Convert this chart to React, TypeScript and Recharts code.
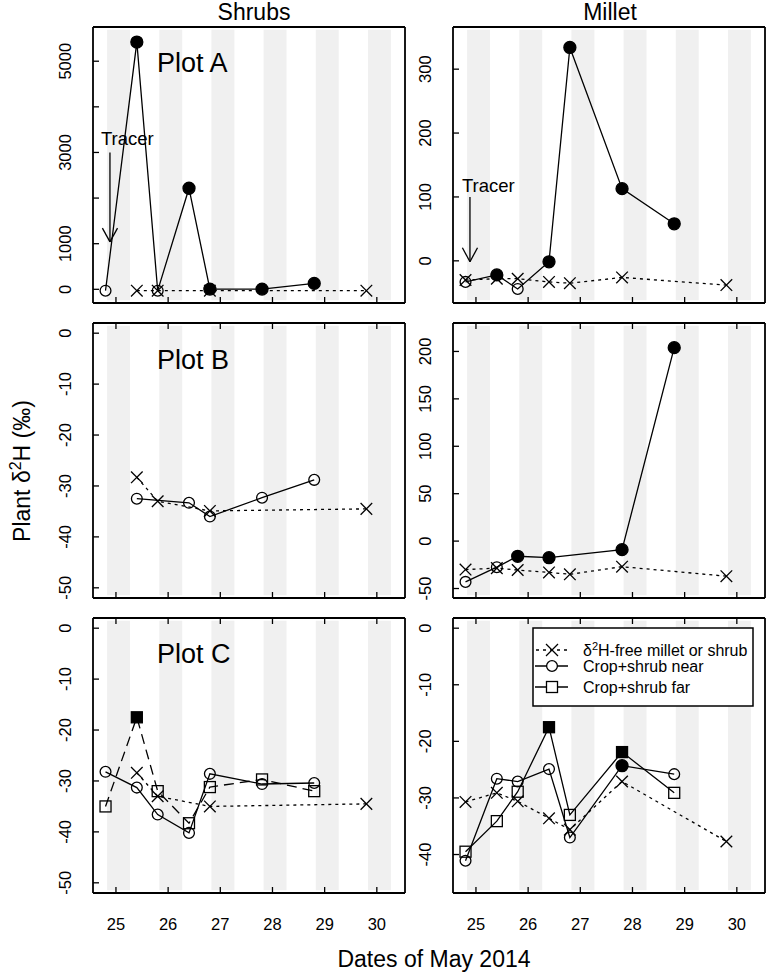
import React from 'react';
import { LineChart, Line, XAxis, YAxis, ReferenceArea, ReferenceLine } from 'recharts';

const FONT = '"Liberation Sans", Arial, Helvetica, sans-serif';

// x axis: dates of May 2014
const dayTicks = [25, 26, 27, 28, 29, 30];
const nightStart = [24.83, 25.83, 26.83, 27.83, 28.83, 29.83];
const nightEnd = [25.27, 26.27, 27.27, 28.27, 29.27, 30.27];
const xDomain: [number, number] = [24.56, 30.54];

// Plot A – Shrubs
const aShrubCtrlX = [25.4, 25.8, 26.8, 29.8];
const aShrubCtrlY = [-30, -30, -30, -30];
const aShrubNearX = [24.8, 25.4, 25.8, 26.4, 26.8, 27.8, 28.8];
const aShrubNearY = [-30, 5420, -30, 2215, 5, 5, 130];
const aShrubNearFilled = [0, 1, 0, 1, 1, 1, 1];

// Plot A – Millet
const aMilletCtrlX = [24.8, 25.4, 25.8, 26.4, 26.8, 27.8, 29.8];
const aMilletCtrlY = [-30, -28, -28, -33, -35, -26, -38];
const aMilletNearX = [24.8, 25.4, 25.8, 26.4, 26.8, 27.8, 28.8];
const aMilletNearY = [-33, -22, -44, -1.5, 334, 113, 58];
const aMilletNearFilled = [0, 1, 0, 1, 1, 1, 1];

// Plot B – Shrubs
const bShrubCtrlX = [25.4, 25.8, 26.8, 29.8];
const bShrubCtrlY = [-28.3, -33, -34.9, -34.5];
const bShrubNearX = [25.4, 26.4, 26.8, 27.8, 28.8];
const bShrubNearY = [-32.5, -33.3, -36, -32.3, -28.8];
const bShrubNearFilled = [0, 0, 0, 0, 0];

// Plot B – Millet
const bMilletCtrlX = [24.8, 25.4, 25.8, 26.4, 26.8, 27.8, 29.8];
const bMilletCtrlY = [-30, -28.5, -30.5, -33, -35, -27, -37];
const bMilletNearX = [24.8, 25.4, 25.8, 26.4, 27.8, 28.8];
const bMilletNearY = [-43, -27.5, -16, -17.5, -9, 204];
const bMilletNearFilled = [0, 0, 1, 1, 1, 1];

// Plot C – Shrubs
const cShrubCtrlX = [25.4, 25.8, 26.8, 29.8];
const cShrubCtrlY = [-28.4, -33, -35, -34.5];
const cShrubNearX = [24.8, 25.4, 25.8, 26.4, 26.8, 27.8, 28.8];
const cShrubNearY = [-28.2, -31.3, -36.6, -40.2, -28.6, -30.6, -30.4];
const cShrubNearFilled = [0, 0, 0, 0, 0, 0, 0];
const cShrubFarX = [24.8, 25.4, 25.8, 26.4, 26.8, 27.8, 28.8];
const cShrubFarY = [-35, -17.5, -32, -38.3, -31.2, -29.7, -32];
const cShrubFarFilled = [0, 1, 0, 0, 0, 0, 0];

// Plot C – Millet
const cMilletCtrlX = [24.8, 25.4, 25.8, 26.4, 26.8, 27.8, 29.8];
const cMilletCtrlY = [-30.7, -29.1, -30.6, -33.6, -35.6, -27.1, -37.7];
const cMilletNearX = [24.8, 25.4, 25.8, 26.4, 26.8, 27.8, 28.8];
const cMilletNearY = [-41.1, -26.6, -27.1, -24.9, -37, -24.3, -25.8];
const cMilletNearFilled = [0, 0, 0, 0, 0, 1, 0];
const cMilletFarX = [24.8, 25.4, 25.8, 26.4, 26.8, 27.8, 28.8];
const cMilletFarY = [-39.5, -34.1, -28.9, -17.5, -33, -21.9, -29.1];
const cMilletFarFilled = [0, 0, 0, 1, 0, 1, 0];

// y axes
const aShrubTicks = [0, 1000, 2000, 3000, 4000, 5000];
const aShrubTickLabels = [0, 1000, 3000, 5000];
const aShrubDomain: [number, number] = [-300, 5750];
const aMilletTicks = [0, 100, 200, 300];
const aMilletDomain: [number, number] = [-66, 366];
const shrubBCTicks = [0, -10, -20, -30, -40, -50];
const shrubBCDomain: [number, number] = [-52, 2];
const bMilletTicks = [-50, 0, 50, 100, 150, 200];
const bMilletDomain: [number, number] = [-60, 230];
const cMilletTicks = [0, -10, -20, -30, -40];
const cMilletDomain: [number, number] = [-46.8, 1.8];

// tracer arrows (date, top of shaft, tip, head length)
const tracerShrubs = { x: 24.885, yTop: 3000, yTip: 1040, head: 300, halfW: 0.145 };
const tracerMillet = { x: 24.885, yTop: 100, yTip: -1.5, head: 22, halfW: 0.145 };

type Pt = { x: number; y: number; f: number };
const pts = (xs: number[], ys: number[], fs?: number[]): Pt[] =>
  xs.map((x, i) => ({ x, y: ys[i], f: fs ? fs[i] : 0 }));

type Shape = 'x' | 'circle' | 'square';
type Series = { data: Pt[]; shape: Shape; dash?: string };

const LW = 1.3;

function Marker(props: any) {
  const { cx, cy, payload, shape } = props;
  if (cx == null || cy == null || isNaN(cx) || isNaN(cy)) return null;
  const filled = payload && payload.f === 1;
  if (shape === 'x') {
    const s = 5.8;
    return (
      <g>
        <line x1={cx - s} y1={cy - s} x2={cx + s} y2={cy + s} stroke="#000" strokeWidth={LW} />
        <line x1={cx - s} y1={cy + s} x2={cx + s} y2={cy - s} stroke="#000" strokeWidth={LW} />
      </g>
    );
  }
  if (shape === 'circle') {
    return (
      <circle cx={cx} cy={cy} r={filled ? 6 : 5.4} fill={filled ? '#000' : 'none'} stroke="#000" strokeWidth={LW} />
    );
  }
  const h = 5.5;
  return (
    <rect x={cx - h} y={cy - h} width={2 * h} height={2 * h} fill={filled ? '#000' : 'none'} stroke="#000" strokeWidth={LW} />
  );
}

const makeBottomTick = (showLabel: boolean) => (props: any) => {
  const { x, y, payload } = props;
  return (
    <g>
      <line x1={x} y1={y} x2={x} y2={y - 6} stroke="#000" strokeWidth={LW} />
      {showLabel && (
        <text x={x} y={y + 37} textAnchor="middle" fontSize={16.5} fontFamily={FONT} fill="#000">
          {payload.value}
        </text>
      )}
    </g>
  );
};

const makeTopTick = () => (props: any) => {
  const { x, y } = props;
  return <line x1={x} y1={y} x2={x} y2={y + 6} stroke="#000" strokeWidth={LW} />;
};

const makeLeftTick = (labels: number[]) => (props: any) => {
  const { x, y, payload } = props;
  const show = labels.includes(payload.value);
  return (
    <g>
      <line x1={x} y1={y} x2={x + 6} y2={y} stroke="#000" strokeWidth={LW} />
      {show && (
        <text
          transform={`translate(${x - 22},${y}) rotate(-90)`}
          textAnchor="middle"
          fontSize={16.5}
          fontFamily={FONT}
          fill="#000"
        >
          {payload.value}
        </text>
      )}
    </g>
  );
};

type Arrow = { x: number; yTop: number; yTip: number; head: number; halfW: number };

type PanelProps = {
  left: number;
  top: number;
  frameH: number;
  yDomain: [number, number];
  yTicks: number[];
  yLabels: number[];
  series: Series[];
  topTicks: boolean;
  bottomLabels: boolean;
  arrow?: Arrow;
};

const Y_W = 60;
const TOP_H = 10;
const BOT_H = 45;
const RIGHT_W = 10;
const FRAME_W = 312;
const BAND_INSET = 0.01;
const axisLine = { stroke: '#000', strokeWidth: 1.8 };

function Panel(p: PanelProps) {
  const width = FRAME_W + Y_W + RIGHT_W;
  const height = p.frameH + TOP_H + BOT_H;
  const span = p.yDomain[1] - p.yDomain[0];
  const bandLo = p.yDomain[0] + span * BAND_INSET;
  const bandHi = p.yDomain[1] - span * BAND_INSET;
  return (
    <div style={{ position: 'absolute', left: p.left - Y_W, top: p.top - TOP_H, width, height }}>
      <LineChart width={width} height={height} margin={{ top: 0, right: 0, bottom: 0, left: 0 }}>
        <XAxis
          xAxisId="b"
          dataKey="x"
          type="number"
          scale="linear"
          domain={xDomain}
          allowDataOverflow
          ticks={dayTicks}
          interval={0}
          height={BOT_H}
          tickSize={0}
          tickMargin={0}
          tickLine={false}
          axisLine={axisLine}
          tick={makeBottomTick(p.bottomLabels)}
        />
        <XAxis
          xAxisId="t"
          orientation="top"
          dataKey="x"
          type="number"
          scale="linear"
          domain={xDomain}
          allowDataOverflow
          ticks={dayTicks}
          interval={0}
          height={TOP_H}
          tickSize={0}
          tickMargin={0}
          tickLine={false}
          axisLine={axisLine}
          tick={p.topTicks ? makeTopTick() : false}
        />
        <YAxis
          yAxisId="l"
          type="number"
          domain={p.yDomain}
          allowDataOverflow
          ticks={p.yTicks}
          interval={0}
          width={Y_W}
          tickSize={0}
          tickMargin={0}
          tickLine={false}
          axisLine={axisLine}
          tick={makeLeftTick(p.yLabels)}
        />
        <YAxis
          yAxisId="r"
          orientation="right"
          type="number"
          domain={p.yDomain}
          allowDataOverflow
          width={RIGHT_W}
          tick={false}
          tickLine={false}
          axisLine={axisLine}
        />
        {nightStart.map((s, i) => (
          <ReferenceArea
            key={'n' + i}
            xAxisId="b"
            yAxisId="l"
            x1={s}
            x2={nightEnd[i]}
            y1={bandLo}
            y2={bandHi}
            fill="#f0f0f0"
            fillOpacity={1}
            stroke="none"
            ifOverflow="hidden"
          />
        ))}
        {p.arrow && (
          <ReferenceLine
            xAxisId="b"
            yAxisId="l"
            segment={[
              { x: p.arrow.x, y: p.arrow.yTop },
              { x: p.arrow.x, y: p.arrow.yTip },
            ]}
            stroke="#000"
            strokeWidth={LW}
          />
        )}
        {p.arrow && (
          <ReferenceLine
            xAxisId="b"
            yAxisId="l"
            segment={[
              { x: p.arrow.x - p.arrow.halfW, y: p.arrow.yTip + p.arrow.head },
              { x: p.arrow.x, y: p.arrow.yTip },
            ]}
            stroke="#000"
            strokeWidth={LW}
          />
        )}
        {p.arrow && (
          <ReferenceLine
            xAxisId="b"
            yAxisId="l"
            segment={[
              { x: p.arrow.x + p.arrow.halfW, y: p.arrow.yTip + p.arrow.head },
              { x: p.arrow.x, y: p.arrow.yTip },
            ]}
            stroke="#000"
            strokeWidth={LW}
          />
        )}
        {p.series.map((s, i) => (
          <Line
            key={'s' + i}
            xAxisId="b"
            yAxisId="l"
            data={s.data}
            dataKey="y"
            type="linear"
            stroke="#000"
            strokeWidth={LW}
            strokeDasharray={s.dash}
            isAnimationActive={false}
            activeDot={false}
            dot={(dp: any) => <Marker key={'d' + i + '-' + dp.index} {...dp} shape={s.shape} />}
          />
        ))}
      </LineChart>
    </div>
  );
}

const CTRL_DASH = '3 4';
const FAR_DASH = '10 6';

export default function App() {
  const L = 93;
  const R = 453;
  const rows = [27, 323, 618];
  const frameHs = [276, 275, 275];
  return (
    <div style={{ position: 'absolute', left: 0, top: 0, width: 768, height: 977, background: '#fff', fontFamily: FONT }}>
      <Panel
        left={L}
        top={rows[0]}
        frameH={frameHs[0]}
        yDomain={aShrubDomain}
        yTicks={aShrubTicks}
        yLabels={aShrubTickLabels}
        topTicks={false}
        bottomLabels={false}
        arrow={tracerShrubs}
        series={[
          { data: pts(aShrubCtrlX, aShrubCtrlY), shape: 'x', dash: CTRL_DASH },
          { data: pts(aShrubNearX, aShrubNearY, aShrubNearFilled), shape: 'circle' },
        ]}
      />
      <Panel
        left={R}
        top={rows[0]}
        frameH={frameHs[0]}
        yDomain={aMilletDomain}
        yTicks={aMilletTicks}
        yLabels={aMilletTicks}
        topTicks={false}
        bottomLabels={false}
        arrow={tracerMillet}
        series={[
          { data: pts(aMilletCtrlX, aMilletCtrlY), shape: 'x', dash: CTRL_DASH },
          { data: pts(aMilletNearX, aMilletNearY, aMilletNearFilled), shape: 'circle' },
        ]}
      />
      <Panel
        left={L}
        top={rows[1]}
        frameH={frameHs[1]}
        yDomain={shrubBCDomain}
        yTicks={shrubBCTicks}
        yLabels={shrubBCTicks}
        topTicks={true}
        bottomLabels={false}
        series={[
          { data: pts(bShrubCtrlX, bShrubCtrlY), shape: 'x', dash: CTRL_DASH },
          { data: pts(bShrubNearX, bShrubNearY, bShrubNearFilled), shape: 'circle' },
        ]}
      />
      <Panel
        left={R}
        top={rows[1]}
        frameH={frameHs[1]}
        yDomain={bMilletDomain}
        yTicks={bMilletTicks}
        yLabels={bMilletTicks}
        topTicks={true}
        bottomLabels={false}
        series={[
          { data: pts(bMilletCtrlX, bMilletCtrlY), shape: 'x', dash: CTRL_DASH },
          { data: pts(bMilletNearX, bMilletNearY, bMilletNearFilled), shape: 'circle' },
        ]}
      />
      <Panel
        left={L}
        top={rows[2]}
        frameH={frameHs[2]}
        yDomain={shrubBCDomain}
        yTicks={shrubBCTicks}
        yLabels={shrubBCTicks}
        topTicks={true}
        bottomLabels={true}
        series={[
          { data: pts(cShrubCtrlX, cShrubCtrlY), shape: 'x', dash: CTRL_DASH },
          { data: pts(cShrubNearX, cShrubNearY, cShrubNearFilled), shape: 'circle' },
          { data: pts(cShrubFarX, cShrubFarY, cShrubFarFilled), shape: 'square', dash: FAR_DASH },
        ]}
      />
      <Panel
        left={R}
        top={rows[2]}
        frameH={frameHs[2]}
        yDomain={cMilletDomain}
        yTicks={cMilletTicks}
        yLabels={cMilletTicks}
        topTicks={true}
        bottomLabels={true}
        series={[
          { data: pts(cMilletCtrlX, cMilletCtrlY), shape: 'x', dash: CTRL_DASH },
          { data: pts(cMilletNearX, cMilletNearY, cMilletNearFilled), shape: 'circle' },
          { data: pts(cMilletFarX, cMilletFarY, cMilletFarFilled), shape: 'square' },
        ]}
      />
      <svg
        width={768}
        height={977}
        style={{ position: 'absolute', left: 0, top: 0, pointerEvents: 'none' }}
        fontFamily={FONT}
      >
        <text x={254} y={20} textAnchor="middle" fontSize={23} fill="#000">Shrubs</text>
        <text x={610} y={20} textAnchor="middle" fontSize={23} fill="#000">Millet</text>
        <text x={157} y={72} fontSize={27} fill="#000">Plot A</text>
        <text x={157} y={369} fontSize={27} fill="#000">Plot B</text>
        <text x={157} y={663} fontSize={27} fill="#000">Plot C</text>
        <text x={101} y={145} fontSize={18.5} fill="#000">Tracer</text>
        <text x={462} y={192} fontSize={18.5} fill="#000">Tracer</text>
        <text transform="translate(30,471) rotate(-90)" textAnchor="middle" fontSize={23} fill="#000">
          Plant δ<tspan dy={-9} fontSize={16}>2</tspan>
          <tspan dy={9}>H (‰)</tspan>
        </text>
        <text x={434} y={967} textAnchor="middle" fontSize={23} fill="#000">Dates of May 2014</text>
        {/* legend */}
        <rect x={533} y={628} width={220} height={78} fill="#fff" stroke="#000" strokeWidth={1.5} />
        <g stroke="#000" strokeWidth={LW}>
          <line x1={536} y1={650} x2={568} y2={650} strokeDasharray="3 4" />
          <line x1={546} y1={644} x2={558} y2={656} />
          <line x1={546} y1={656} x2={558} y2={644} />
          <line x1={535} y1={666} x2={568} y2={666} />
          <circle cx={552} cy={666} r={5.4} fill="#fff" />
          <line x1={535} y1={687} x2={568} y2={687} />
          <rect x={546.5} y={681.5} width={11} height={11} fill="#fff" />
        </g>
        <text x={583} y={656} fontSize={16} fill="#000">
          δ<tspan dy={-6} fontSize={11}>2</tspan>
          <tspan dy={6}>H-free millet or shrub</tspan>
        </text>
        <text x={583} y={672} fontSize={16} fill="#000">Crop+shrub near</text>
        <text x={583} y={693} fontSize={16} fill="#000">Crop+shrub far</text>
      </svg>
    </div>
  );
}
